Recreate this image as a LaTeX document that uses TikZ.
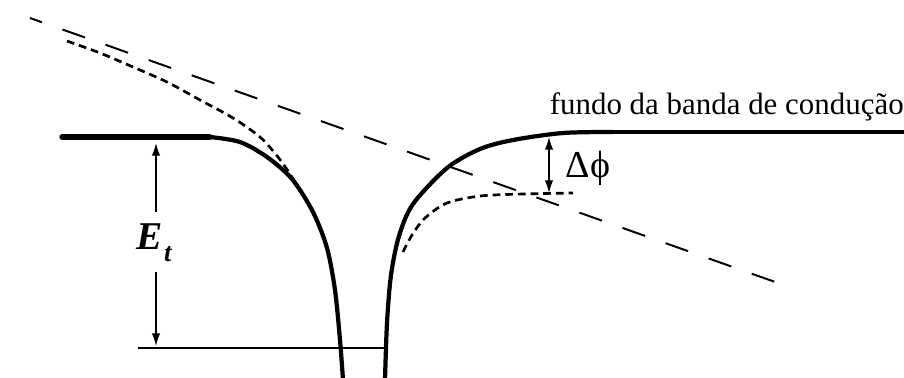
\documentclass[tikz,border=0pt]{standalone}
\usepackage{fontspec}
\setmainfont{Liberation Serif}
\usetikzlibrary{arrows.meta}

\tikzset{
  band/.style={line width=3pt, line cap=round, line join=round},
  fermi/.style={line width=1.4pt},
  field/.style={line width=1.4pt, dash pattern=on 17pt off 15.5pt, dash phase=8pt},
  lowered/.style={line width=1.9pt, dash pattern=on 5.5pt off 3.5pt},
  dim/.style={line width=1pt, -{Latex[length=9pt,width=6pt]}}
}

\begin{document}
\begin{tikzpicture}[x=0.025cm, y=-0.025cm, every node/.style={inner sep=0pt}]
  \useasboundingbox (0,0) rectangle (904,377);
  % applied field
  \draw[field] (30,18) -- (778,283);
  % band edge lowered by the field
  \draw[lowered] plot[smooth] coordinates {(67,41) (100,53) (133,67) (167,82) (200,100) (233,118) (260,137) (278,157) (290,174) (301,192)};
  \draw[lowered] plot[smooth] coordinates {(403,252) (412,235) (425,218) (447,203) (480,196) (523,194) (573,193)};
  % conduction band edge, left and right of the trap
  \draw[band, line width=3.8pt] (62,137) -- (210,137);
  \draw[band] plot[smooth] coordinates {(210,137) (240,142) (267,157) (292,179) (313,212) (327,248) (335,290) (340,340) (343,380)};
  \draw[band] plot[smooth] coordinates {(385,380) (387,323) (391,275) (399,236) (413,204) (447,168) (480,149) (513,140) (563,133) (613,132)};
  \draw[band, line width=3.5pt] (613,132) -- (906,132);
  % trap level
  \draw[fermi] (138,348) -- (386,348);
  % labels
  \node[anchor=base east] (cb) at (904,114) {\fontsize{22}{26}\selectfont fundo da banda de condução};
  \node (Et) at (154,243) {\fontsize{28}{30}\selectfont\bfseries\itshape E\kern1pt\raisebox{-0.65ex}{\fontsize{19}{20}\selectfont t}};
  \node (dphi) at (588,168) {\fontsize{27}{29}\selectfont Δϕ};
  % depth of the trap
  \coordinate (etTop) at (156,143);
  \coordinate (etBot) at (156,346);
  \coordinate (etA) at (156,212);
  \coordinate (etB) at (156,272);
  \draw[dim] (etA) -- (etTop);
  \draw[dim] (etB) -- (etBot);
  % barrier lowering
  \coordinate (dpTop) at (549,137);
  \coordinate (dpBot) at (549,193);
  \draw[dim, {Latex[length=9pt,width=6pt]}-{Latex[length=9pt,width=6pt]}] (dpTop) -- (dpBot);
\end{tikzpicture}
\end{document}
